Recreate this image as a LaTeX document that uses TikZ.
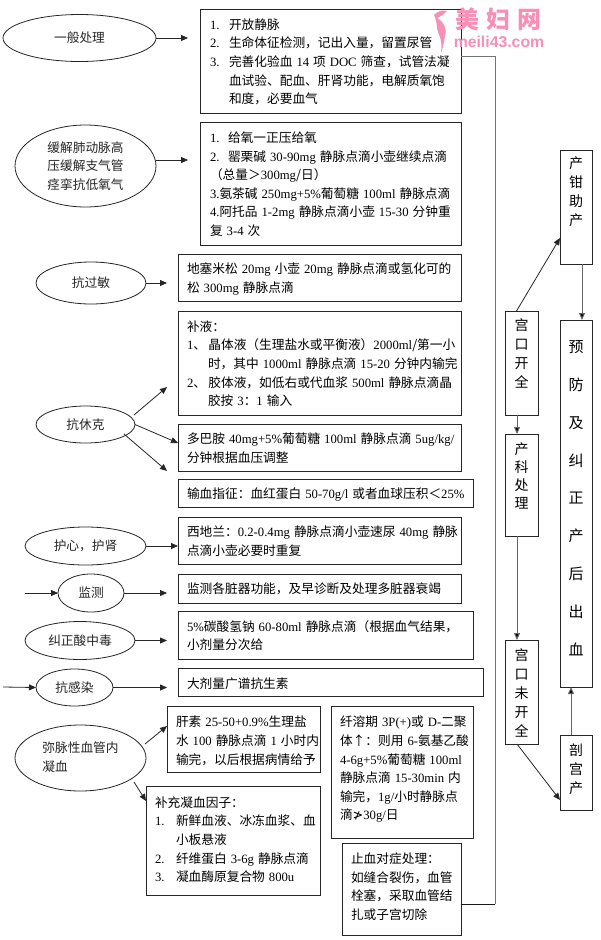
\documentclass[tikz,border=0pt]{standalone}
\usepackage{fontspec}
\setmainfont{Noto Sans CJK SC}
\newfontfamily\latinf{Liberation Serif}
\newfontfamily\markf{Liberation Sans}
\newfontfamily\symf{DejaVu Sans}
\usetikzlibrary{shapes.geometric,arrows.meta,calc}
\newcommand\Ltn[1]{{\latinf #1}}
\newcommand\nmb[2][19]{\hbox to #1pt{\Ltn{#2}\hss}}
\newcommand\nmc[2][21]{\hbox to #1pt{#2\hss}}
\newcommand\ind[1][19]{\hskip #1pt\relax}
\newlength\bxw
\newlength\bxh
\tikzset{
  basefont/.style={font=\fontsize{12.7}{18.6}\selectfont},
  boxn/.style={draw=black!85,line width=0.9pt,inner xsep=0pt,inner ysep=0pt,outer sep=0pt,anchor=north west,basefont,fill=white},
  ell/.style={ellipse,draw=black!85,line width=0.8pt,inner sep=0pt,outer sep=0pt,basefont,align=center,text=black!85},
  arr/.style={draw=black!85,line width=0.8pt,-{Triangle[length=7pt,width=6pt]}},
  garr/.style={draw=black!60,line width=1pt,-{Triangle[length=7pt,width=6pt,fill=black]}},
  bus/.style={draw=black!55,line width=1pt},
  wm/.style={text=magenta!40!pink!80!white,inner sep=0pt},
}
% name, x1, y1, x2, y2, left pad, raise, body
\newcommand\bx[8]{\pgfmathsetlength\bxw{#4-#2}\pgfmathsetlength\bxh{#5-#3}%
  \node[boxn,minimum width=\bxw,minimum height=\bxh] (#1) at (#2,#3)
  {\hbox to \bxw{\hskip #6pt\raisebox{\dimexpr#7pt-4.7pt\relax}[0pt][0pt]{\spaceskip=4pt\relax\begin{tabular}{@{}l@{}}#8\end{tabular}}\hss}};}
% name, x1, y1, x2, y2, character size, line spacing, raise, body
\newcommand\cb[9]{\pgfmathsetlength\bxw{#4-#2}\pgfmathsetlength\bxh{#5-#3}%
  \node[boxn,minimum width=\bxw,minimum height=\bxh,font=\fontsize{#6}{#7}\selectfont] (#1) at (#2,#3)
  {\hbox to \bxw{\hss\raisebox{\dimexpr#8pt-5pt\relax}[0pt][0pt]{\begin{tabular}{@{}c@{}}#9\end{tabular}}\hss}};}
\begin{document}
\begin{tikzpicture}[x=1pt,y=-1pt]
\useasboundingbox[fill=white] (0,0) rectangle (600,940);

% ---- treatment boxes
\bx{b1}{200}{9}{461}{113}{10}{0}{\nmb{1.}开放静脉\\ \nmb{2.}生命体征检测，记出入量，留置尿管\\ \nmb{3.}完善化验血 \Ltn{14} 项 \Ltn{DOC} 筛查，试管法凝\\ \ind 血试验、配血、肝肾功能，电解质氧饱\\ \ind 和度，必要血气}
\bx{b2}{200}{122}{461}{245}{10}{0}{\nmb[18]{1.}给氧一正压给氧\\ \nmb[18]{2.}罂栗碱 \Ltn{30-90mg} 静脉点滴小壶继续点滴\\ （总量＞\Ltn{300mg}/日）\\ \Ltn{3.}氨茶碱 \Ltn{250mg+5\%}葡萄糖 \Ltn{100ml} 静脉点滴\\ \Ltn{4.}阿托品 \Ltn{1-2mg} 静脉点滴小壶 \Ltn{15-30} 分钟重\\ 复 \Ltn{3-4} 次}
\bx{b3}{178}{254}{461}{301}{9}{0}{地塞米松 \Ltn{20mg} 小壶 \Ltn{20mg} 静脉点滴或氢化可的\\ 松 \Ltn{300mg} 静脉点滴}
\bx{b4}{178}{311}{461}{415}{9}{0}{补液：\\ \Ltn{1}\nmc[15]{、}晶体液（生理盐水或平衡液）\Ltn{2000ml}/第一小\\ \ind[21]时，其中 \Ltn{1000ml} 静脉点滴 \Ltn{15-20} 分钟内输完\\ \Ltn{2}\nmc[15]{、}胶体液，如低右或代血浆 \Ltn{500ml} 静脉点滴晶\\ \ind[21]胶按 \Ltn{3}：\Ltn{1} 输入}
\bx{b5}{178}{424}{461}{471}{9}{0}{多巴胺 \Ltn{40mg+5\%}葡萄糖 \Ltn{100ml} 静脉点滴 \Ltn{5ug/kg/}\\ 分钟根据血压调整}
\bx{b6}{178}{479}{473}{507}{9}{0}{输血指征：血红蛋白 \Ltn{50-70g/l} 或者血球压积＜\Ltn{25\%}}
\bx{b7}{178}{517}{461}{564}{9}{0}{西地兰：\Ltn{0.2-0.4mg} 静脉点滴小壶速尿 \Ltn{40mg} 静脉\\ 点滴小壶必要时重复}
\bx{b8}{178}{574}{461}{603}{9}{0}{监测各脏器功能，及早诊断及处理多脏器衰竭}
\bx{b9}{178}{611}{473}{659}{9}{0}{\Ltn{5\%}碳酸氢钠 \Ltn{60-80ml} 静脉点滴（根据血气结果，\\ 小剂量分次给}
\bx{b10}{178}{668}{483}{696}{9}{-1}{大剂量广谱抗生素}
\bx{b11}{167}{706}{320}{772}{9}{-1}{肝素 \Ltn{25-50+0.9\%}生理盐\\ 水 \Ltn{100} 静脉点滴 \Ltn{1} 小时内\\ 输完，以后根据病情给予}
\bx{b12}{146}{786}{320}{895}{9}{1.5}{补充凝血因子：\\ \nmb[21]{1.}新鲜血液、冰冻血浆、血\\ \ind[21]小板悬液\\ \nmb[21]{2.}纤维蛋白 \Ltn{3-6g} 静脉点滴\\ \nmb[21]{3.}凝血酶原复合物 \Ltn{800u}}
\bx{b13}{331}{706}{473}{838}{9}{4}{纤溶期 \Ltn{3P(+)}或 \Ltn{D-}二聚\\ 体↑：则用 \Ltn{6-}氨基乙酸\\ \Ltn{4-6g+5\%}葡萄糖 \Ltn{100ml}\\ 静脉点滴 \Ltn{15-30min} 内\\ 输完，\Ltn{1g/}小时静脉点\\ 滴{\symf ≯}\Ltn{30g/}日}
\bx{b14}{342}{843}{461}{935}{9}{3}{止血对症处理：\\ 如缝合裂伤，血管\\ 栓塞，采取血管结\\ 扎或子宫切除}

% ---- vertical boxes
\cb{c1}{560}{150}{592}{264}{14}{19}{15}{产\\钳\\助\\产}
\cb{c2}{560}{320}{592}{687}{15}{37.8}{8.5}{预\\防\\及\\纠\\正\\产\\后\\出\\血}
\cb{c3}{560}{735}{592}{810}{14}{19}{3.5}{剖\\宫\\产}
\cb{k1}{505}{311}{538}{415}{14}{19}{9.5}{宫\\口\\开\\全}
\cb{k2}{505}{434}{538}{536}{14}{18}{9}{产\\科\\处\\理}
\cb{k3}{505}{640}{538}{744}{14}{19}{-1.5}{宫\\口\\未\\开\\全}

% ---- ellipses
\node[ell,minimum width=153pt,minimum height=47pt] (e1) at (79.5,38) {一般处理};
\node[ell,minimum width=141pt,minimum height=82pt] (e2) at (85.5,166) {缓解肺动脉高\\压缓解支气管\\痉挛抗低氧气};
\node[ell,minimum width=110pt,minimum height=42pt] (e3) at (91,283) {抗过敏};
\node[ell,minimum width=99pt,minimum height=37pt] (e4) at (85.5,424.5) {抗休克};
\node[ell,minimum width=121pt,minimum height=38pt] (e5) at (85.5,546) {护心，护肾};
\node[ell,minimum width=66pt,minimum height=38pt] (e6) at (91,593) {监测};
\node[ell,minimum width=110pt,minimum height=38pt] (e7) at (80,640.5) {纠正酸中毒};
\node[ell,minimum width=77pt,minimum height=37pt] (e8) at (74.5,687.5) {抗感染};
\node[ell,minimum width=131pt,minimum height=66pt] (e9) at (80.5,758) {\begin{tabular}{@{}l@{}}弥脉性血管内\\凝血\end{tabular}};

% ---- free ends
\coordinate (in6) at (25,593);
\coordinate (in8) at (3,687);
\coordinate (t41) at (167,387);
\coordinate (t42) at (178,443);
\coordinate (t43) at (167,471);
\coordinate (t91) at (167,726);
\coordinate (t92) at (146,801);

% ---- connectors, left column
\draw[arr,shorten >=12pt] (e1.east) -- (e1.east -| b1.west);
\draw[arr,shorten >=12pt] ([yshift=6pt]e2.east) -- ([yshift=6pt]e2.east -| b2.west);
\draw[arr,shorten >=11pt] (e3.east) -- (e3.east -| b3.west);
\draw[arr] ([shift={(-1,-9.5)}]e4.east) -- (t41);
\draw[arr] (e4.east) -- (t42);
\draw[arr] ([shift={(-11,9.5)}]e4.east) -- (t43);
\draw[arr] (e5.east) -- (e5.east -| b7.west);
\draw[arr] (in6) -- (e6.west);
\draw[arr,shorten >=11pt] (e6.east) -- (e6.east -| b8.west);
\draw[arr,shorten >=11pt] (e7.east) -- (e7.east -| b9.west);
\draw[arr] (in8) -- (e8.west);
\draw[arr,shorten >=11pt] (e8.east) -- (e8.east -| b10.west);
\draw[arr] ([shift={(-1,-14)}]e9.east) -- (t91);
\draw[arr] ([shift={(-12,24)}]e9.east) -- (t92);

% ---- bus line joining the first and last boxes
\coordinate (busb) at (495,904);
\draw[bus] ([yshift=5pt]b1.east) -- ([yshift=5pt]b1.east -| busb) -- (busb);
\draw[draw=black!90,line width=0.9pt] (busb) -- ([yshift=-15pt]b14.east);

% ---- connectors, right columns
\draw[arr] ([xshift=-5pt]k1.north) -- ([yshift=-31pt]c1.west);
\draw[garr] ([xshift=6pt]c1.south) -- ([xshift=6pt]c2.north);
\draw[garr] ([xshift=-4.5pt]k1.south) -- ([xshift=-4.5pt]k2.north);
\draw[garr] ([xshift=-4.5pt]k2.south) -- ([xshift=-4.5pt]k3.north);
\draw[arr] ([xshift=-4.5pt]k3.south) -- ([yshift=-27.5pt]c3.west);
\draw[garr] ([xshift=-5pt]c3.north) -- ([xshift=-5pt]c2.south);

% ---- watermark
\node[wm,font=\fontsize{24}{24}\selectfont\bfseries] (w1) at (498.5,19) {美\hspace{7pt}妇\hspace{7pt}网};
\node[wm,font=\markf\bfseries\fontsize{15.8}{16}\selectfont] (w2) at (499,41.5) {meili43.com};
\fill[magenta!40!pink!80!white] (434,15) .. controls (439,10) and (443,10) .. (447,11) .. controls (443,15) and (440,17) .. (437,18)
  .. controls (444,22) and (447,28) .. (445,36) .. controls (444,42) and (443,48) .. (441,53)
  .. controls (442,44) and (441,38) .. (438,32) .. controls (436,27) and (438,23) .. (434,15) -- cycle;
\end{tikzpicture}
\end{document}
